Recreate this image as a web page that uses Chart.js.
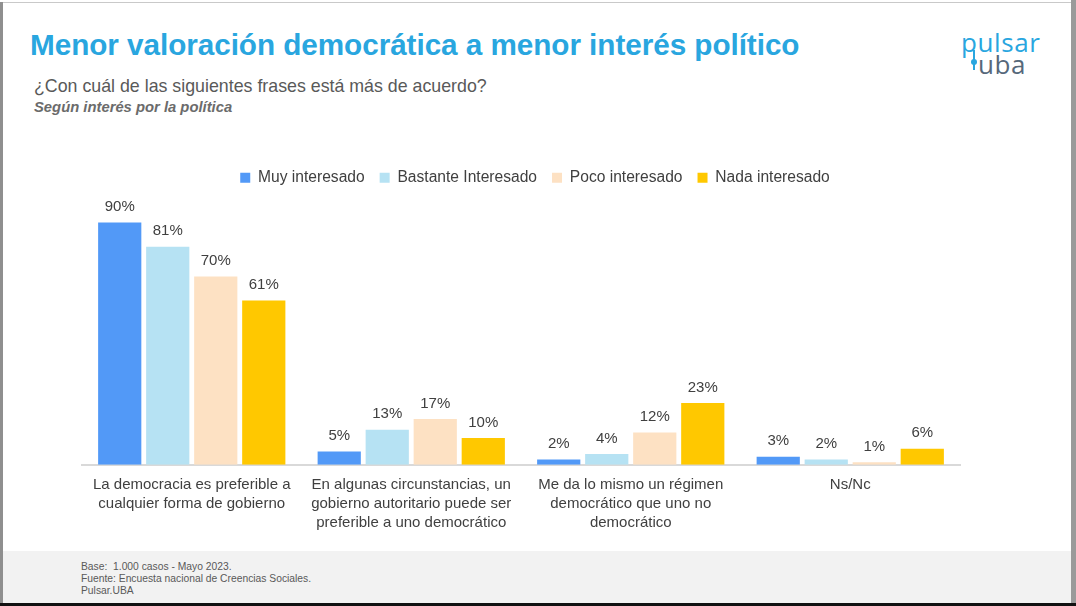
<!DOCTYPE html>
<html lang="es">
<head>
<meta charset="UTF-8">
<title>Menor valoración democrática a menor interés político</title>
<script src="https://cdn.jsdelivr.net/npm/chart.js"></script>
<style>
    html, body {
        margin: 0;
        padding: 0;
        width: 1076px;
        height: 606px;
        overflow: hidden;
        background: #ffffff;
        font-family: 'Liberation Sans', Arial, sans-serif;
    }
    .slide {
        position: absolute;
        left: 0;
        top: 0;
        width: 1076px;
        height: 606px;
        background: #ffffff;
    }
    .border-top { position: absolute; left: 0; top: 2px; width: 1072px; height: 1px; background: #c9c9c9; }
    .border-left { position: absolute; left: 0; top: 2px; width: 3px; height: 601px; background: #8f8f8f; }
    .border-right { position: absolute; left: 1071px; top: 0; width: 5px; height: 603px; background: #9a9a9a; }
    .border-bottom { position: absolute; left: 0; top: 603px; width: 1076px; height: 3px; background: #111; }
    h1 {
        position: absolute;
        left: 30px;
        top: 28px;
        margin: 0;
        font-size: 29.7px;
        font-weight: bold;
        color: #29a6df;
        letter-spacing: -0.05px;
    }
    .sub {
        position: absolute;
        left: 34px;
        top: 76px;
        font-size: 17.8px;
        color: #595959;
    }
    .sub2 {
        position: absolute;
        left: 34px;
        top: 99px;
        font-size: 14.8px;
        font-weight: bold;
        font-style: italic;
        color: #6b6b6b;
    }
    .logo {
        position: absolute;
        left: 961px;
        top: 31px;
        font-family: 'Open Sans', 'DejaVu Sans', sans-serif;
        font-size: 26px;
        line-height: 22px;
        letter-spacing: 0.6px;
    }
    .logo .p { color: #29a6df; }
    .logo .u { color: #56687a; padding-left: 17px; position: relative; }
    .logo .u:before {
        content: '';
        position: absolute;
        left: 12px;
        top: 4px;
        width: 2px;
        height: 20px;
        background: #29a6df;
    }
    .logo .u:after {
        content: '';
        position: absolute;
        left: 10px;
        top: 13px;
        width: 6px;
        height: 6px;
        border-radius: 3px;
        background: #29a6df;
    }
    .chart-box {
        position: absolute;
        left: 70px;
        top: 155px;
        width: 930px;
        height: 387px;
    }
    .footer {
        position: absolute;
        left: 3px;
        top: 551px;
        width: 1068px;
        height: 52px;
        background: #f2f2f2;
    }
    .footer p {
        margin: 0;
        position: absolute;
        left: 78px;
        top: 10px;
        font-size: 10.3px;
        line-height: 12px;
        color: #595959;
    }
</style>
</head>
<body>
<div class="slide">
    <div class="border-top"></div>
    <h1>Menor valoración democrática a menor interés político</h1>
    <div class="sub">¿Con cuál de las siguientes frases está más de acuerdo?</div>
    <div class="sub2">Según interés por la política</div>
    <div class="logo"><span class="p">pulsar</span><br><span class="u">uba</span></div>

    <div class="chart-box">
        <canvas id="chart"></canvas>
    </div>

    <div class="footer">
        <p>Base:&nbsp; 1.000 casos - Mayo 2023.<br>Fuente: Encuesta nacional de Creencias Sociales.<br>Pulsar.UBA</p>
    </div>
    <div class="border-left"></div>
    <div class="border-right"></div>
    <div class="border-bottom"></div>
</div>

<script>
    // categories (x axis)
    const categories = [
        ['La democracia es preferible a', 'cualquier forma de gobierno'],
        ['En algunas circunstancias, un', 'gobierno autoritario puede ser', 'preferible a uno democrático'],
        ['Me da lo mismo un régimen', 'democrático que uno no', 'democrático'],
        ['Ns/Nc']
    ];

    // series, % per category
    const muyInteresado = [90, 5, 2, 3];
    const bastanteInteresado = [81, 13, 4, 2];
    const pocoInteresado = [70, 17, 12, 1];
    const nadaInteresado = [61, 10, 23, 6];

    const seriesNames = ['Muy interesado', 'Bastante Interesado', 'Poco interesado', 'Nada interesado'];
    const seriesColors = ['#5299f7', '#b6e2f3', '#fde1c3', '#ffc800'];

    const textColor = '#404040';

    // value labels above each bar
    const valueLabels = {
        id: 'valueLabels',
        afterDatasetsDraw(chart) {
            const ctx = chart.ctx;
            ctx.save();
            ctx.font = '15px "Liberation Sans", Arial, sans-serif';
            ctx.fillStyle = textColor;
            ctx.textAlign = 'center';
            ctx.textBaseline = 'bottom';
            chart.data.datasets.forEach((ds, i) => {
                chart.getDatasetMeta(i).data.forEach((bar, j) => {
                    ctx.fillText(ds.data[j] + '%', bar.x, bar.y - 8);
                });
            });
            ctx.restore();
        }
    };

    const allSeries = [muyInteresado, bastanteInteresado, pocoInteresado, nadaInteresado];

    new Chart(document.getElementById('chart'), {
        type: 'bar',
        data: {
            labels: categories,
            datasets: allSeries.map((d, i) => ({
                label: seriesNames[i],
                data: d,
                backgroundColor: seriesColors[i],
                borderWidth: 0,
                categoryPercentage: 0.875,
                barPercentage: 0.9
            }))
        },
        options: {
            responsive: true,
            maintainAspectRatio: false,
            animation: false,
            layout: { padding: { left: 12, right: 12, top: 0, bottom: 0 } },
            plugins: {
                legend: {
                    position: 'top',
                    labels: {
                        boxWidth: 10,
                        boxHeight: 10,
                        padding: 15,
                        color: textColor,
                        font: { size: 15.6, family: '"Liberation Sans", Arial, sans-serif' }
                    }
                },
                tooltip: { enabled: false }
            },
            scales: {
                x: {
                    grid: { display: false, drawTicks: false },
                    border: { color: '#d9d9d9', width: 2 },
                    ticks: {
                        color: textColor,
                        padding: 10,
                        maxRotation: 0,
                        autoSkip: false,
                        font: { size: 15, family: '"Liberation Sans", Arial, sans-serif', lineHeight: 1.27 }
                    }
                },
                y: {
                    // hidden axis on the right, only to keep the legend off-centre like the slide
                    position: 'right',
                    min: 0,
                    max: 100,
                    grid: { display: false, drawTicks: false },
                    border: { display: false },
                    ticks: { display: false },
                    afterFit(scale) { scale.width = 28; }
                }
            }
        },
        plugins: [valueLabels]
    });
</script>
</body>
</html>
